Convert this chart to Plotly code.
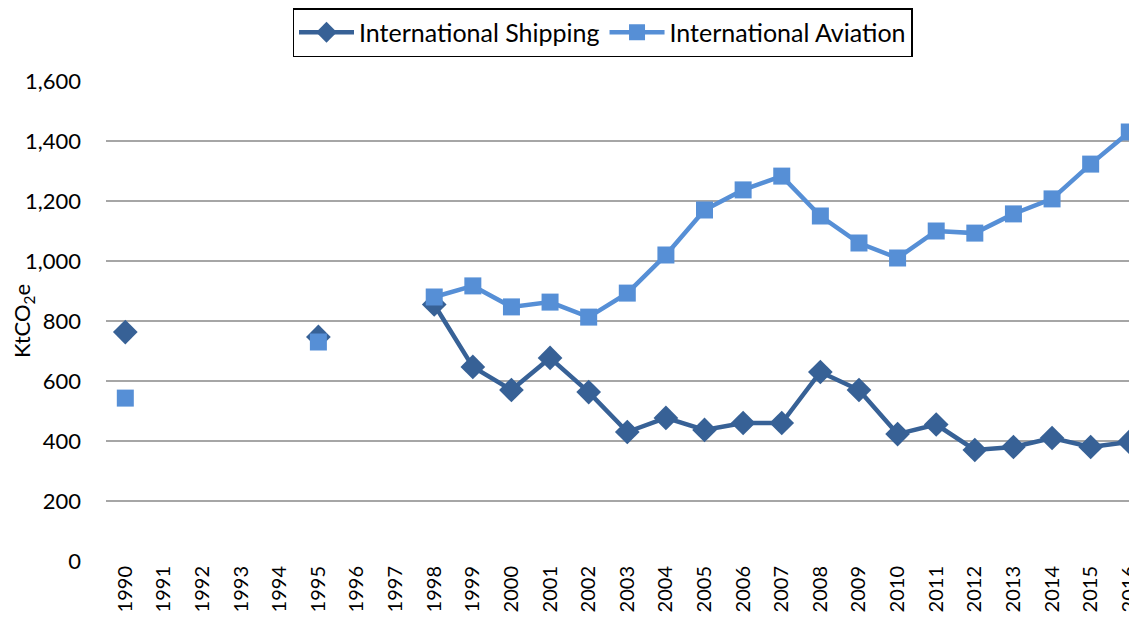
import plotly.graph_objects as go

years = list(range(1990, 2017))
shipping = [763, None, None, None, None, 747, None, None, 855, 647, 570, 677, 563, 430,
            477, 437, 460, 460, 630, 570, 423, 455, 370, 380, 410, 380, 397]
aviation = [543, None, None, None, None, 730, None, None, 880, 917, 847, 863, 813, 893,
            1020, 1170, 1237, 1283, 1150, 1060, 1010, 1100, 1093, 1157, 1207, 1323, 1430]
y_ticks = [0, 200, 400, 600, 800, 1000, 1200, 1400, 1600]

FONT = "Lato, Open Sans, sans-serif"
W, H = 1137, 621  # page body has an 8px margin; right 8px fall outside the window
fig = go.Figure()
fig.add_trace(go.Scatter(
    x=years, y=shipping, name="International Shipping", mode="lines+markers",
    line=dict(color="#376196", width=4.5),
    marker=dict(symbol="diamond", size=19, color="#376196"),
    connectgaps=False))
fig.add_trace(go.Scatter(
    x=years, y=aviation, name="International Aviation", mode="lines+markers",
    line=dict(color="#568FD6", width=4.5),
    marker=dict(symbol="square", size=17, color="#568FD6"),
    connectgaps=False))

fig.update_layout(
    width=W, height=H,
    margin=dict(l=98, r=8, t=73, b=68, autoexpand=False),
    paper_bgcolor="white", plot_bgcolor="white",
    font=dict(family=FONT, size=19, color="black"),
    showlegend=True,
    legend=dict(orientation="h", x=594.5 / W, xanchor="center", xref="container",
                y=1.0, yanchor="top", yref="container",
                bordercolor="black", borderwidth=1.5,
                font=dict(size=25, family=FONT), itemwidth=55,
                bgcolor="white", traceorder="normal"),
    xaxis=dict(range=[1989.5, 2016.2], tickmode="array", tickvals=years,
               ticktext=[str(y) for y in years], tickangle=-90, showgrid=False,
               tickfont=dict(size=20), showline=False, zeroline=False, ticks="",
               automargin=False),
    yaxis=dict(range=[0, 1600], tickvals=y_ticks, tickformat=",d",
               gridcolor="#A6A6A6", gridwidth=1.5, zeroline=False, showline=False,
               tickfont=dict(size=22), ticks="", ticklen=0, automargin=False,
               ticklabelstandoff=24,
               title=dict(text="KtCO<sub>2</sub>e", font=dict(size=22), standoff=12)),
)
fig.write_html("out.html")
